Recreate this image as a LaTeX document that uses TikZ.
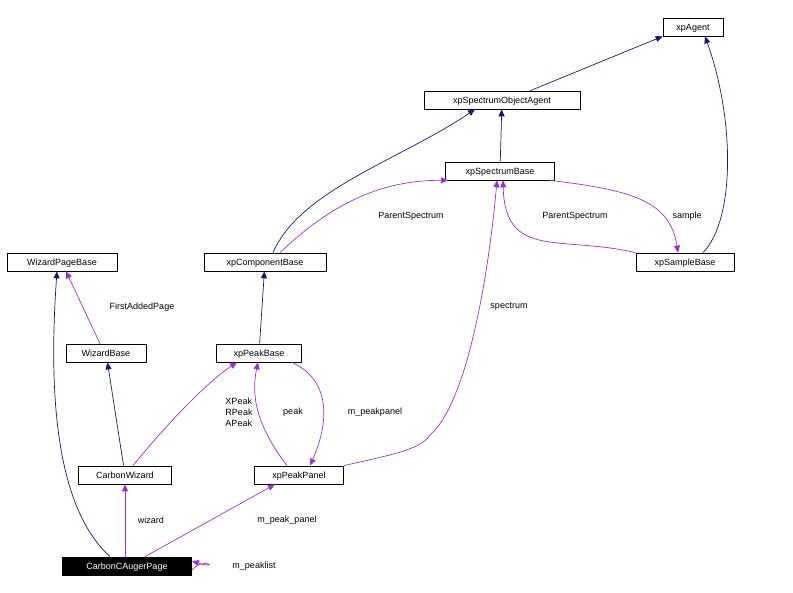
\documentclass[tikz,border=0pt]{standalone}
\usepackage{fontspec}
\setmainfont{Liberation Sans}
\usetikzlibrary{arrows.meta}

\begin{document}
\begin{tikzpicture}[x=1pt,y=-1pt,>={Triangle[length=7pt,width=6pt]},thick,
                    font=\fontsize{9}{11}\selectfont,
                    cls/.style={draw,line width=0.7pt,inner sep=0pt,minimum height=18pt,text depth=0pt},
                    inh/.style={->,draw=navy,line width=0.7pt},
                    use/.style={->,draw=violet,line width=0.7pt}]
  \definecolor{navy}{RGB}{25,25,112}
  \definecolor{violet}{RGB}{153,50,204}
  \useasboundingbox (0,0) rectangle (793,593);

  \node[cls, minimum width=60pt] (agent) at (693,27) {xpAgent};
  \node[cls, minimum width=156pt] (soa) at (502,100) {xpSpectrumObjectAgent};
  \node[cls, minimum width=109pt] (sbase) at (500,171) {xpSpectrumBase};
  \node[cls, minimum width=110pt] (wpb) at (62,262) {WizardPageBase};
  \node[cls, minimum width=122pt] (comp) at (265,262) {xpComponentBase};
  \node[cls, minimum width=98pt] (sample) at (685,262) {xpSampleBase};
  \node[cls, minimum width=80pt] (wbase) at (106,353) {WizardBase};
  \node[cls, minimum width=85pt] (pbase) at (259,353) {xpPeakBase};
  \node[cls, minimum width=93pt] (cwiz) at (125,475) {CarbonWizard};
  \node[cls, minimum width=89pt] (ppanel) at (299,475) {xpPeakPanel};
  \node[cls, minimum width=129pt, fill=black, text=white] (page) at (127,566) {CarbonCAugerPage};

  \draw[inh] (soa.north east) ++(-50,0) -- (agent.south west);
  \draw[inh] (sample.north) ++(18,0) .. controls (735,220) and (735,120) .. ([xshift=12pt]agent.south);
  \draw[inh] (sbase) -- (soa);
  \draw[inh] ([xshift=8pt]comp.north) .. controls (300,190) and (400,160) .. ([xshift=-27pt]soa.south);
  \draw[use] ([xshift=15pt]comp.north) .. controls (330,205) and (380,180) .. ([xshift=-52pt]sbase.south);
  \draw[use] (sample.north west) .. controls (560,235) and (505,260) .. ([xshift=3pt]sbase.south);
  \draw[use] ([xshift=50pt]sbase.south) .. controls (630,190) and (670,200) .. ([xshift=-7pt]sample.north);
  \draw[use] (ppanel.north east) .. controls (390,455) and (420,450) .. (430,435)
                                 .. controls (470,400) and (490,260) .. ([xshift=-3pt]sbase.south);
  \draw[inh] (pbase) -- (comp);
  \draw[use] ([xshift=-6pt]wbase.north) -- ([xshift=4pt]wpb.south);
  \draw[inh] ([xshift=-17pt]page.north) .. controls (70,520) and (45,440) .. ([xshift=-5pt]wpb.south);
  \draw[inh] (cwiz) -- (wbase);
  \draw[use] ([xshift=8pt]cwiz.north) .. controls (170,420) and (210,380) .. ([xshift=-22pt]pbase.south);
  \draw[use] ([xshift=-12pt]ppanel.north) .. controls (260,430) and (250,400) .. ([xshift=-1pt]pbase.south);
  \draw[use] ([xshift=33pt]pbase.south) .. controls (330,380) and (330,420) .. ([xshift=11pt]ppanel.north);
  \draw[use] ([xshift=-2pt]page.north) -- (cwiz);
  \draw[use] ([xshift=18pt]page.north) -- ([xshift=-24pt]ppanel.south);
  \draw[use] ([yshift=-4pt]page.east) .. controls (205,556) and (220,570) .. ([yshift=5pt]page.east);

  \node (l1) at (411,216) {ParentSpectrum};
  \node (l2) at (575,216) {ParentSpectrum};
  \node (l3) at (687,216) {sample};
  \node (l4) at (509,307) {spectrum};
  \node (l5) at (142,307) {FirstAddedPage};
  \node[align=left] (l6) at (239,412) {XPeak\\RPeak\\APeak};
  \node (l7) at (293,412) {peak};
  \node (l8) at (375,412) {m\_peakpanel};
  \node (l9) at (151,520) {wizard};
  \node (l10) at (287,520) {m\_peak\_panel};
  \node (l11) at (254,566) {m\_peaklist};
\end{tikzpicture}
\end{document}
